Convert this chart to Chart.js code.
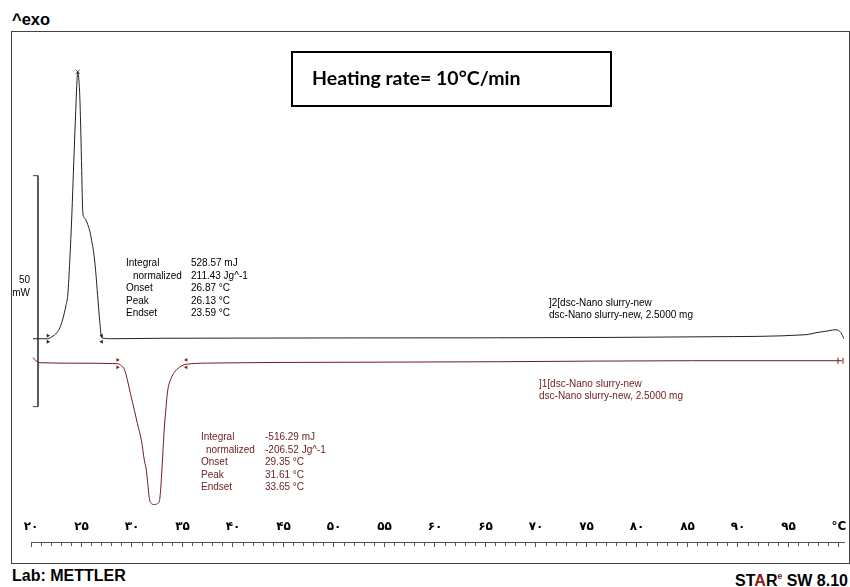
<!DOCTYPE html>
<html><head><meta charset="utf-8">
<script src="https://cdn.jsdelivr.net/npm/chart.js@4.4.1/dist/chart.umd.min.js"></script>
<style>
html,body{margin:0;padding:0;background:#fff;}
body{width:850px;height:587px;position:relative;overflow:hidden;font-family:"Liberation Sans",Arial,sans-serif;color:#000;}
.abs{position:absolute;white-space:pre;}
#frame{position:absolute;left:11px;top:31px;width:837px;height:531px;border:1px solid #444;}
#c{position:absolute;left:0;top:0;}
.big{font-weight:bold;font-size:16px;line-height:18px;}
.ann{font-size:10px;line-height:12.5px;}
.ann div{height:12.5px;}
.red{color:#6e2323;}
#box{position:absolute;left:291px;top:51px;width:317px;height:52px;border:2px solid #000;}
#box span{position:absolute;left:19px;top:14px;font-family:Lato,"Liberation Sans",sans-serif;font-weight:bold;font-size:19.5px;line-height:21px;white-space:pre;}
</style>
</head>
<body>
<div class="abs big" style="left:12px;top:10px;font-size:16.5px;">^exo</div>
<div id="frame"><canvas id="c" width="837" height="531"></canvas></div>
<div id="box"><span>Heating rate= 10°C/min</span></div>

<div class="abs ann" style="left:0;width:30px;top:273px;text-align:right;line-height:13px;">50<br>mW</div>

<div class="abs ann" style="left:126px;top:257px;"><div>Integral</div><div style="padding-left:7px">normalized</div><div>Onset</div><div>Peak</div><div>Endset</div></div>
<div class="abs ann" style="left:191px;top:257px;"><div>528.57 mJ</div><div>211.43 Jg^-1</div><div>26.87 °C</div><div>26.13 °C</div><div>23.59 °C</div></div>

<div class="abs ann red" style="left:201px;top:431px;"><div>Integral</div><div style="padding-left:5px">normalized</div><div>Onset</div><div>Peak</div><div>Endset</div></div>
<div class="abs ann red" style="left:265px;top:431px;"><div>-516.29 mJ</div><div>-206.52 Jg^-1</div><div>29.35 °C</div><div>31.61 °C</div><div>33.65 °C</div></div>

<div class="abs ann" style="left:549px;top:297px;line-height:12px;">]2[dsc-Nano slurry-new<br>dsc-Nano slurry-new, 2.5000 mg</div>
<div class="abs ann red" style="left:539px;top:378px;line-height:12px;">]1[dsc-Nano slurry-new<br>dsc-Nano slurry-new, 2.5000 mg</div>

<div class="abs big" style="left:12px;top:567px;">Lab: METTLER</div>
<div class="abs big" style="right:2px;top:567px;">ST<span style="color:#8e1a1a">A</span>R<sup style="color:#8e1a1a;font-size:8.5px;vertical-align:7px;">e</sup> SW 8.10</div>

<script>
// ---- Data (temperature in °C, heat flow in mW) ----
const tickValues = [20,25,30,35,40,45,50,55,60,65,70,75,80,85,90,95,100];
const tickLabels = ['۲۰','۲۵','۳۰','۳۵','۴۰','۴۵','۵۰','۵۵','۶۰','۶۵','۷۰','۷۵','۸۰','۸۵','۹۰','۹۵','°C'];

// Curve 2 (exothermic, upper)
const exoT = [20.2,21.08,21.67,22.07,22.56,22.86,23.15,23.45,23.65,23.84,24.04,24.24,24.43,24.53,24.63,24.73,24.83,24.93,25.02,25.12,25.22,25.42,25.62,25.81,26.01,26.21,26.40,26.60,26.80,27.00,28.0,33.0,66.2,77.34,87.19,96.75,97.73,99.01,99.7,100.2,100.49];
const exoP = [0,0,0,0.43,1.3,2.4,4.3,7.1,9.7,16.9,26.6,38.5,49.4,54.8,57.8,56.3,52.6,45.0,36.4,27.7,26.4,25.8,24.7,23.4,21.2,18.6,14.7,9.3,3.9,0.2,0,0.1,0.2,0.28,0.43,0.87,1.3,1.73,1.95,1.3,0];

// Curve 1 (endothermic, lower)
const endoT = [20.2,20.49,20.89,24.83,28.57,28.94,29.26,29.56,29.85,30.25,30.54,30.94,31.23,31.43,31.58,31.72,31.92,32.22,32.51,32.74,32.83,32.91,33.03,33.20,33.37,33.53,33.86,34.19,34.68,35.17,35.37,38.13,51.2,66.21,85.52,100.3];
const endoP = [-4.1,-4.76,-5.19,-5.3,-5.41,-5.84,-6.71,-9.09,-11.9,-15.6,-18.4,-22.1,-26.4,-28.6,-31.8,-34.6,-35.7,-35.9,-35.7,-34.8,-32.9,-30.3,-25.8,-19.3,-14.9,-11.3,-8.66,-7.29,-6.21,-5.63,-5.52,-5.26,-5.1,-4.98,-4.76,-4.76];

// Integration limit markers
const exoMarkT = [21.67,21.67,27.0,27.0];
const exoMarkP = [0.65,-0.65,0.65,-0.65];
const endoMarkT = [28.57,28.57,35.37,35.37];
const endoMarkP = [-4.6,-6.2,-4.6,-6.2];
const exoPeakT = [24.63];
const exoPeakP = [57.8];
const endoEndT = [99.9,100.4];
const endoEndP = [-4.76,-4.76];

// 50 mW scale bar
const barT = [20.2,20.69,20.69,20.2];
const barP = [35.3,35.3,-14.7,-14.7];

const pts = (xs, ys) => xs.map((x, i) => ({x, y: ys[i]}));
const BLACK = '#222';
const RED = '#701c1c';

new Chart(document.getElementById('c'), {
  type: 'line',
  data: {
    datasets: [
      {data: pts(exoT, exoP), borderColor: BLACK, borderWidth: 1, pointRadius: 0, cubicInterpolationMode: 'monotone'},
      {data: pts(endoT, endoP), borderColor: RED, borderWidth: 1, pointRadius: 0, cubicInterpolationMode: 'monotone'},
      {data: pts(barT, barP), borderColor: '#444', borderWidth: 1, pointRadius: 0, tension: 0},
      {data: pts(exoMarkT, exoMarkP), showLine: false, pointStyle: 'triangle', pointRadius: 2.2, pointRotation: [90,90,270,270], backgroundColor: BLACK, borderColor: BLACK, borderWidth: 0},
      {data: pts(endoMarkT, endoMarkP), showLine: false, pointStyle: 'triangle', pointRadius: 2.2, pointRotation: [90,90,270,270], backgroundColor: RED, borderColor: RED, borderWidth: 0},
      {data: pts(exoPeakT, exoPeakP), showLine: false, pointStyle: 'crossRot', pointRadius: 3, borderColor: '#555', borderWidth: 1},
      {data: pts(endoEndT, endoEndP), showLine: false, pointStyle: 'line', pointRotation: 90, pointRadius: 3, borderColor: RED, borderWidth: 1}
    ]
  },
  options: {
    responsive: false,
    animation: false,
    devicePixelRatio: 1,
    events: [],
    layout: {padding: {left: 19, right: 1, top: 0, bottom: 16}},
    plugins: {legend: {display: false}, tooltip: {enabled: false}},
    scales: {
      x: {
        type: 'linear', position: 'bottom', weight: 0,
        min: 20, max: 100.5,
        grid: {display: false, drawTicks: false, tickLength: 0},
        border: {display: false},
        ticks: {
          stepSize: 5, includeBounds: false, autoSkip: false, maxTicksLimit: 100, maxRotation: 0,
          padding: 7.9, color: '#000',
          font: {family: 'DejaVu Sans', weight: 'bold', size: 12},
          callback: (v) => { const i = tickValues.indexOf(v); return i >= 0 ? tickLabels[i] : ''; }
        },
        afterFit: (s) => { s.paddingLeft = 0; s.paddingRight = 0; }
      },
      x2: {
        type: 'linear', position: 'bottom', weight: 1,
        min: 20, max: 100.5,
        grid: {
          drawOnChartArea: false, drawTicks: true, tickLength: 5, color: '#555', lineWidth: 1,
          tickBorderDash: (ctx) => (ctx.tick && Math.round(ctx.tick.value) % 5 === 0) ? [] : [3, 10]
        },
        border: {display: true, color: '#555', width: 1},
        ticks: {display: false, stepSize: 1, includeBounds: false, autoSkip: false, maxTicksLimit: 200},
        afterFit: (s) => { s.paddingLeft = 0; s.paddingRight = 0; }
      },
      y: {
        type: 'linear', display: false,
        min: -37.47, max: 65.32
      }
    }
  }
});
</script>
</body></html>
